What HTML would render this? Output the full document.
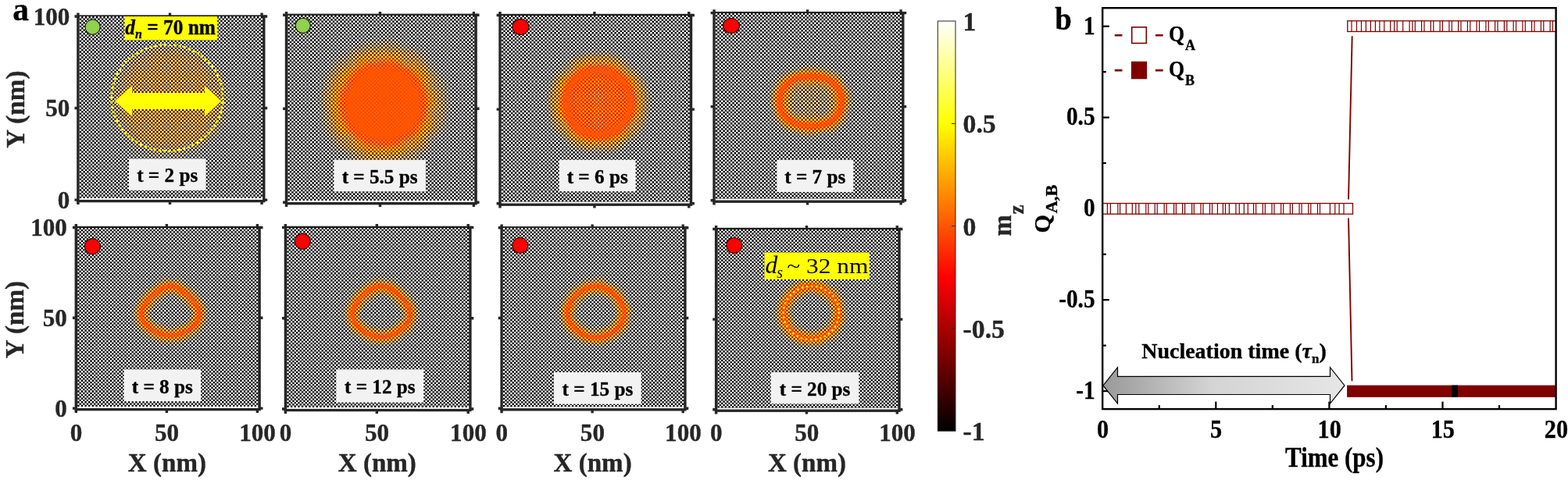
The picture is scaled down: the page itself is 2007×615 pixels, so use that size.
<!DOCTYPE html>
<html lang="en">
<head>
<meta charset="utf-8">
<title>Figure</title>
<style>
html,body{margin:0;padding:0;background:#fff;}
body{width:2007px;height:615px;overflow:hidden;font-family:"Liberation Serif", "DejaVu Serif", serif;}
svg{display:block;}
text[font-weight="bold"], g[font-weight="bold"] text{stroke:currentColor;stroke-width:0.35px;paint-order:stroke fill;stroke-linejoin:round;}
</style>
</head>
<body>
<svg width="2007" height="615" viewBox="0 0 2007 615">
<defs>
<filter id="fa" x="-60%" y="-60%" width="220%" height="220%" color-interpolation-filters="sRGB"><feGaussianBlur stdDeviation="5.5"/></filter><filter id="fb" x="-60%" y="-60%" width="220%" height="220%" color-interpolation-filters="sRGB"><feGaussianBlur stdDeviation="11"/></filter><filter id="fc" x="-60%" y="-60%" width="220%" height="220%" color-interpolation-filters="sRGB"><feGaussianBlur stdDeviation="8"/></filter><filter id="fc2" x="-60%" y="-60%" width="220%" height="220%" color-interpolation-filters="sRGB"><feGaussianBlur stdDeviation="7"/></filter><filter id="fg" x="-60%" y="-60%" width="220%" height="220%" color-interpolation-filters="sRGB"><feGaussianBlur stdDeviation="6.5"/><feComponentTransfer><feFuncA type="linear" slope="3.1" intercept="0"/></feComponentTransfer></filter><filter id="fg2" x="-60%" y="-60%" width="220%" height="220%" color-interpolation-filters="sRGB"><feGaussianBlur stdDeviation="2.2"/><feComponentTransfer><feFuncA type="linear" slope="2.5" intercept="0"/></feComponentTransfer></filter><filter id="fe" x="-60%" y="-60%" width="220%" height="220%" color-interpolation-filters="sRGB"><feGaussianBlur stdDeviation="5.3"/><feComponentTransfer><feFuncA type="linear" slope="3.0" intercept="0"/></feComponentTransfer></filter><filter id="fn" x="-60%" y="-60%" width="220%" height="220%" color-interpolation-filters="sRGB"><feGaussianBlur stdDeviation="1.5"/><feComponentTransfer><feFuncA type="linear" slope="2.0" intercept="0"/></feComponentTransfer></filter><radialGradient id="g1" gradientUnits="userSpaceOnUse" cx="216.5" cy="128.5" r="80" gradientTransform="translate(216.5 128.5) scale(1 0.97) translate(-216.5 -128.5)"><stop offset="0.0000" stop-color="#fff" stop-opacity="0.270"/><stop offset="0.6750" stop-color="#fff" stop-opacity="0.260"/><stop offset="0.7625" stop-color="#fff" stop-opacity="0.210"/><stop offset="0.8375" stop-color="#fff" stop-opacity="0.145"/><stop offset="0.9000" stop-color="#fff" stop-opacity="0.085"/><stop offset="0.9625" stop-color="#fff" stop-opacity="0.035"/><stop offset="1.0000" stop-color="#fff" stop-opacity="0.000"/></radialGradient><radialGradient id="g2" gradientUnits="userSpaceOnUse" cx="490.7" cy="133.2" r="88" gradientTransform="translate(490.7 133.2) scale(1 0.985) translate(-490.7 -133.2)"><stop offset="0.0000" stop-color="#fff" stop-opacity="0.940"/><stop offset="0.4091" stop-color="#fff" stop-opacity="0.960"/><stop offset="0.4773" stop-color="#fff" stop-opacity="1.000"/><stop offset="0.5227" stop-color="#fff" stop-opacity="0.930"/><stop offset="0.5682" stop-color="#fff" stop-opacity="0.820"/><stop offset="0.6193" stop-color="#fff" stop-opacity="0.680"/><stop offset="0.6705" stop-color="#fff" stop-opacity="0.540"/><stop offset="0.7273" stop-color="#fff" stop-opacity="0.410"/><stop offset="0.7841" stop-color="#fff" stop-opacity="0.290"/><stop offset="0.8409" stop-color="#fff" stop-opacity="0.190"/><stop offset="0.8977" stop-color="#fff" stop-opacity="0.100"/><stop offset="0.9545" stop-color="#fff" stop-opacity="0.040"/><stop offset="1.0000" stop-color="#fff" stop-opacity="0.000"/></radialGradient><radialGradient id="g3" gradientUnits="userSpaceOnUse" cx="765.9" cy="131.4" r="69"><stop offset="0.0000" stop-color="#fff" stop-opacity="0.700"/><stop offset="0.4493" stop-color="#fff" stop-opacity="0.730"/><stop offset="0.5362" stop-color="#fff" stop-opacity="0.860"/><stop offset="0.5942" stop-color="#fff" stop-opacity="1.000"/><stop offset="0.6377" stop-color="#fff" stop-opacity="0.880"/><stop offset="0.6812" stop-color="#fff" stop-opacity="0.720"/><stop offset="0.7246" stop-color="#fff" stop-opacity="0.560"/><stop offset="0.7826" stop-color="#fff" stop-opacity="0.400"/><stop offset="0.8406" stop-color="#fff" stop-opacity="0.260"/><stop offset="0.8986" stop-color="#fff" stop-opacity="0.150"/><stop offset="0.9565" stop-color="#fff" stop-opacity="0.060"/><stop offset="1.0000" stop-color="#fff" stop-opacity="0.000"/></radialGradient>
<filter id="hotW" x="0" y="0" width="100%" height="100%" color-interpolation-filters="sRGB">
  <feComponentTransfer>
    <feFuncR type="table" tableValues="1 1 1"/>
    <feFuncG type="table" tableValues="1 1 0.333"/>
    <feFuncB type="table" tableValues="1 0 0"/>
  </feComponentTransfer>
</filter>
<filter id="hotB" x="0" y="0" width="100%" height="100%" color-interpolation-filters="sRGB">
  <feComponentTransfer>
    <feFuncR type="table" tableValues="0 0.333 0.667 1 1"/>
    <feFuncG type="table" tableValues="0 0 0 0 0.333"/>
    <feFuncB type="table" tableValues="0 0 0 0 0"/>
  </feComponentTransfer>
</filter>
<mask id="mk0" maskUnits="userSpaceOnUse" x="101.80" y="21.10" width="234.30" height="232.90"><g fill="none" stroke="#fff" stroke-width="2.3290" stroke-dasharray="2.3430 2.3430"><path d="M101.80 22.265H336.10 M101.80 26.923H336.10 M101.80 31.581H336.10 M101.80 36.239H336.10 M101.80 40.897H336.10 M101.80 45.555H336.10 M101.80 50.213H336.10 M101.80 54.871H336.10 M101.80 59.529H336.10 M101.80 64.186H336.10 M101.80 68.845H336.10 M101.80 73.502H336.10 M101.80 78.161H336.10 M101.80 82.819H336.10 M101.80 87.477H336.10 M101.80 92.135H336.10 M101.80 96.793H336.10 M101.80 101.451H336.10 M101.80 106.109H336.10 M101.80 110.767H336.10 M101.80 115.424H336.10 M101.80 120.083H336.10 M101.80 124.740H336.10 M101.80 129.399H336.10 M101.80 134.056H336.10 M101.80 138.715H336.10 M101.80 143.373H336.10 M101.80 148.031H336.10 M101.80 152.689H336.10 M101.80 157.346H336.10 M101.80 162.005H336.10 M101.80 166.662H336.10 M101.80 171.321H336.10 M101.80 175.978H336.10 M101.80 180.637H336.10 M101.80 185.294H336.10 M101.80 189.953H336.10 M101.80 194.611H336.10 M101.80 199.269H336.10 M101.80 203.927H336.10 M101.80 208.585H336.10 M101.80 213.243H336.10 M101.80 217.901H336.10 M101.80 222.559H336.10 M101.80 227.216H336.10 M101.80 231.875H336.10 M101.80 236.532H336.10 M101.80 241.191H336.10 M101.80 245.849H336.10 M101.80 250.507H336.10"/><path d="M101.80 24.594H336.10 M101.80 29.252H336.10 M101.80 33.910H336.10 M101.80 38.568H336.10 M101.80 43.226H336.10 M101.80 47.884H336.10 M101.80 52.541H336.10 M101.80 57.200H336.10 M101.80 61.858H336.10 M101.80 66.516H336.10 M101.80 71.174H336.10 M101.80 75.832H336.10 M101.80 80.490H336.10 M101.80 85.148H336.10 M101.80 89.805H336.10 M101.80 94.464H336.10 M101.80 99.121H336.10 M101.80 103.780H336.10 M101.80 108.438H336.10 M101.80 113.096H336.10 M101.80 117.754H336.10 M101.80 122.412H336.10 M101.80 127.070H336.10 M101.80 131.728H336.10 M101.80 136.386H336.10 M101.80 141.044H336.10 M101.80 145.702H336.10 M101.80 150.359H336.10 M101.80 155.018H336.10 M101.80 159.675H336.10 M101.80 164.334H336.10 M101.80 168.992H336.10 M101.80 173.650H336.10 M101.80 178.308H336.10 M101.80 182.966H336.10 M101.80 187.624H336.10 M101.80 192.281H336.10 M101.80 196.940H336.10 M101.80 201.597H336.10 M101.80 206.256H336.10 M101.80 210.913H336.10 M101.80 215.572H336.10 M101.80 220.230H336.10 M101.80 224.888H336.10 M101.80 229.546H336.10 M101.80 234.204H336.10 M101.80 238.862H336.10 M101.80 243.520H336.10 M101.80 248.178H336.10 M101.80 252.836H336.10" stroke-dashoffset="2.3430"/></g></mask><clipPath id="cp0"><rect x="101.80" y="21.10" width="234.30" height="232.90"/></clipPath><g id="fld0"><rect x="81.80" y="1.10" width="274.30" height="272.90" fill="#000"/><ellipse cx="216.5" cy="128.5" rx="80" ry="77.60" fill="url(#g1)"/></g><mask id="mk1" maskUnits="userSpaceOnUse" x="368.40" y="19.40" width="239.00" height="237.70"><g fill="none" stroke="#fff" stroke-width="2.3770" stroke-dasharray="2.3900 2.3900"><path d="M368.40 20.589H607.40 M368.40 25.343H607.40 M368.40 30.096H607.40 M368.40 34.850H607.40 M368.40 39.605H607.40 M368.40 44.358H607.40 M368.40 49.112H607.40 M368.40 53.867H607.40 M368.40 58.620H607.40 M368.40 63.374H607.40 M368.40 68.129H607.40 M368.40 72.882H607.40 M368.40 77.636H607.40 M368.40 82.391H607.40 M368.40 87.144H607.40 M368.40 91.898H607.40 M368.40 96.653H607.40 M368.40 101.406H607.40 M368.40 106.160H607.40 M368.40 110.915H607.40 M368.40 115.668H607.40 M368.40 120.422H607.40 M368.40 125.176H607.40 M368.40 129.930H607.40 M368.40 134.684H607.40 M368.40 139.438H607.40 M368.40 144.192H607.40 M368.40 148.946H607.40 M368.40 153.701H607.40 M368.40 158.454H607.40 M368.40 163.208H607.40 M368.40 167.963H607.40 M368.40 172.716H607.40 M368.40 177.470H607.40 M368.40 182.224H607.40 M368.40 186.978H607.40 M368.40 191.732H607.40 M368.40 196.486H607.40 M368.40 201.240H607.40 M368.40 205.994H607.40 M368.40 210.748H607.40 M368.40 215.502H607.40 M368.40 220.256H607.40 M368.40 225.010H607.40 M368.40 229.764H607.40 M368.40 234.518H607.40 M368.40 239.272H607.40 M368.40 244.026H607.40 M368.40 248.780H607.40 M368.40 253.534H607.40"/><path d="M368.40 22.966H607.40 M368.40 27.720H607.40 M368.40 32.474H607.40 M368.40 37.227H607.40 M368.40 41.981H607.40 M368.40 46.736H607.40 M368.40 51.489H607.40 M368.40 56.243H607.40 M368.40 60.998H607.40 M368.40 65.751H607.40 M368.40 70.505H607.40 M368.40 75.260H607.40 M368.40 80.013H607.40 M368.40 84.767H607.40 M368.40 89.522H607.40 M368.40 94.275H607.40 M368.40 99.029H607.40 M368.40 103.784H607.40 M368.40 108.537H607.40 M368.40 113.291H607.40 M368.40 118.045H607.40 M368.40 122.799H607.40 M368.40 127.553H607.40 M368.40 132.307H607.40 M368.40 137.061H607.40 M368.40 141.815H607.40 M368.40 146.569H607.40 M368.40 151.323H607.40 M368.40 156.077H607.40 M368.40 160.832H607.40 M368.40 165.585H607.40 M368.40 170.339H607.40 M368.40 175.093H607.40 M368.40 179.847H607.40 M368.40 184.601H607.40 M368.40 189.355H607.40 M368.40 194.109H607.40 M368.40 198.863H607.40 M368.40 203.617H607.40 M368.40 208.371H607.40 M368.40 213.125H607.40 M368.40 217.879H607.40 M368.40 222.633H607.40 M368.40 227.387H607.40 M368.40 232.141H607.40 M368.40 236.895H607.40 M368.40 241.649H607.40 M368.40 246.403H607.40 M368.40 251.157H607.40 M368.40 255.911H607.40" stroke-dashoffset="2.3900"/></g></mask><clipPath id="cp1"><rect x="368.40" y="19.40" width="239.00" height="237.70"/></clipPath><g id="fld1"><rect x="348.40" y="-0.60" width="279.00" height="277.70" fill="#000"/><ellipse cx="490.7" cy="133.2" rx="88" ry="86.68" fill="url(#g2)"/></g><mask id="mk2" maskUnits="userSpaceOnUse" x="641.90" y="19.60" width="240.90" height="239.00"><g fill="none" stroke="#fff" stroke-width="2.3900" stroke-dasharray="2.4090 2.4090"><path d="M641.90 20.795H882.80 M641.90 25.575H882.80 M641.90 30.355H882.80 M641.90 35.135H882.80 M641.90 39.915H882.80 M641.90 44.695H882.80 M641.90 49.475H882.80 M641.90 54.255H882.80 M641.90 59.035H882.80 M641.90 63.815H882.80 M641.90 68.595H882.80 M641.90 73.375H882.80 M641.90 78.155H882.80 M641.90 82.935H882.80 M641.90 87.715H882.80 M641.90 92.495H882.80 M641.90 97.275H882.80 M641.90 102.055H882.80 M641.90 106.835H882.80 M641.90 111.615H882.80 M641.90 116.395H882.80 M641.90 121.175H882.80 M641.90 125.955H882.80 M641.90 130.735H882.80 M641.90 135.515H882.80 M641.90 140.295H882.80 M641.90 145.075H882.80 M641.90 149.855H882.80 M641.90 154.635H882.80 M641.90 159.415H882.80 M641.90 164.195H882.80 M641.90 168.975H882.80 M641.90 173.755H882.80 M641.90 178.535H882.80 M641.90 183.315H882.80 M641.90 188.095H882.80 M641.90 192.875H882.80 M641.90 197.655H882.80 M641.90 202.435H882.80 M641.90 207.215H882.80 M641.90 211.995H882.80 M641.90 216.775H882.80 M641.90 221.555H882.80 M641.90 226.335H882.80 M641.90 231.115H882.80 M641.90 235.895H882.80 M641.90 240.675H882.80 M641.90 245.455H882.80 M641.90 250.235H882.80 M641.90 255.015H882.80"/><path d="M641.90 23.185H882.80 M641.90 27.965H882.80 M641.90 32.745H882.80 M641.90 37.525H882.80 M641.90 42.305H882.80 M641.90 47.085H882.80 M641.90 51.865H882.80 M641.90 56.645H882.80 M641.90 61.425H882.80 M641.90 66.205H882.80 M641.90 70.985H882.80 M641.90 75.765H882.80 M641.90 80.545H882.80 M641.90 85.325H882.80 M641.90 90.105H882.80 M641.90 94.885H882.80 M641.90 99.665H882.80 M641.90 104.445H882.80 M641.90 109.225H882.80 M641.90 114.005H882.80 M641.90 118.785H882.80 M641.90 123.565H882.80 M641.90 128.345H882.80 M641.90 133.125H882.80 M641.90 137.905H882.80 M641.90 142.685H882.80 M641.90 147.465H882.80 M641.90 152.245H882.80 M641.90 157.025H882.80 M641.90 161.805H882.80 M641.90 166.585H882.80 M641.90 171.365H882.80 M641.90 176.145H882.80 M641.90 180.925H882.80 M641.90 185.705H882.80 M641.90 190.485H882.80 M641.90 195.265H882.80 M641.90 200.045H882.80 M641.90 204.825H882.80 M641.90 209.605H882.80 M641.90 214.385H882.80 M641.90 219.165H882.80 M641.90 223.945H882.80 M641.90 228.725H882.80 M641.90 233.505H882.80 M641.90 238.285H882.80 M641.90 243.065H882.80 M641.90 247.845H882.80 M641.90 252.625H882.80 M641.90 257.405H882.80" stroke-dashoffset="2.4090"/></g></mask><clipPath id="cp2"><rect x="641.90" y="19.60" width="240.90" height="239.00"/></clipPath><g id="fld2"><rect x="621.90" y="-0.40" width="280.90" height="279.00" fill="#000"/><ellipse cx="765.9" cy="131.4" rx="69" ry="69.00" fill="url(#g3)"/></g><mask id="mk3" maskUnits="userSpaceOnUse" x="915.90" y="16.70" width="238.20" height="237.90"><g fill="none" stroke="#fff" stroke-width="2.3790" stroke-dasharray="2.3820 2.3820"><path d="M915.90 17.890H1154.10 M915.90 22.648H1154.10 M915.90 27.405H1154.10 M915.90 32.163H1154.10 M915.90 36.921H1154.10 M915.90 41.679H1154.10 M915.90 46.438H1154.10 M915.90 51.195H1154.10 M915.90 55.953H1154.10 M915.90 60.711H1154.10 M915.90 65.469H1154.10 M915.90 70.227H1154.10 M915.90 74.986H1154.10 M915.90 79.743H1154.10 M915.90 84.501H1154.10 M915.90 89.259H1154.10 M915.90 94.017H1154.10 M915.90 98.775H1154.10 M915.90 103.533H1154.10 M915.90 108.291H1154.10 M915.90 113.049H1154.10 M915.90 117.807H1154.10 M915.90 122.565H1154.10 M915.90 127.323H1154.10 M915.90 132.081H1154.10 M915.90 136.839H1154.10 M915.90 141.597H1154.10 M915.90 146.356H1154.10 M915.90 151.113H1154.10 M915.90 155.871H1154.10 M915.90 160.629H1154.10 M915.90 165.387H1154.10 M915.90 170.145H1154.10 M915.90 174.903H1154.10 M915.90 179.661H1154.10 M915.90 184.419H1154.10 M915.90 189.177H1154.10 M915.90 193.935H1154.10 M915.90 198.693H1154.10 M915.90 203.451H1154.10 M915.90 208.209H1154.10 M915.90 212.967H1154.10 M915.90 217.725H1154.10 M915.90 222.483H1154.10 M915.90 227.241H1154.10 M915.90 231.999H1154.10 M915.90 236.757H1154.10 M915.90 241.515H1154.10 M915.90 246.273H1154.10 M915.90 251.031H1154.10"/><path d="M915.90 20.269H1154.10 M915.90 25.027H1154.10 M915.90 29.785H1154.10 M915.90 34.543H1154.10 M915.90 39.300H1154.10 M915.90 44.058H1154.10 M915.90 48.816H1154.10 M915.90 53.574H1154.10 M915.90 58.332H1154.10 M915.90 63.090H1154.10 M915.90 67.849H1154.10 M915.90 72.606H1154.10 M915.90 77.364H1154.10 M915.90 82.122H1154.10 M915.90 86.880H1154.10 M915.90 91.638H1154.10 M915.90 96.396H1154.10 M915.90 101.154H1154.10 M915.90 105.912H1154.10 M915.90 110.670H1154.10 M915.90 115.428H1154.10 M915.90 120.186H1154.10 M915.90 124.944H1154.10 M915.90 129.702H1154.10 M915.90 134.460H1154.10 M915.90 139.218H1154.10 M915.90 143.976H1154.10 M915.90 148.734H1154.10 M915.90 153.492H1154.10 M915.90 158.250H1154.10 M915.90 163.008H1154.10 M915.90 167.766H1154.10 M915.90 172.524H1154.10 M915.90 177.282H1154.10 M915.90 182.040H1154.10 M915.90 186.798H1154.10 M915.90 191.556H1154.10 M915.90 196.314H1154.10 M915.90 201.072H1154.10 M915.90 205.830H1154.10 M915.90 210.588H1154.10 M915.90 215.346H1154.10 M915.90 220.104H1154.10 M915.90 224.862H1154.10 M915.90 229.620H1154.10 M915.90 234.378H1154.10 M915.90 239.136H1154.10 M915.90 243.894H1154.10 M915.90 248.652H1154.10 M915.90 253.410H1154.10" stroke-dashoffset="2.3820"/></g></mask><clipPath id="cp3"><rect x="915.90" y="16.70" width="238.20" height="237.90"/></clipPath><g id="fld3"><rect x="895.90" y="-3.30" width="278.20" height="277.90" fill="#000"/><path d="M1077.8 129.8 L1077.7 133.4 L1077.3 136.4 L1076.6 139.3 L1075.6 142.0 L1074.4 144.5 L1072.9 146.9 L1071.2 149.2 L1069.3 151.3 L1067.1 153.2 L1064.7 155.0 L1062.1 156.5 L1059.2 157.9 L1056.2 159.1 L1053.0 160.1 L1049.7 160.8 L1046.1 161.4 L1042.2 161.7 L1037.8 161.8 L1033.4 161.7 L1029.5 161.4 L1025.9 160.8 L1022.6 160.1 L1019.4 159.1 L1016.4 157.9 L1013.5 156.5 L1010.9 155.0 L1008.5 153.2 L1006.3 151.3 L1004.4 149.2 L1002.7 146.9 L1001.2 144.5 L1000.0 142.0 L999.0 139.3 L998.3 136.4 L997.9 133.4 L997.8 129.8 L997.9 126.2 L998.3 123.2 L999.0 120.3 L1000.0 117.6 L1001.2 115.1 L1002.7 112.7 L1004.4 110.4 L1006.3 108.3 L1008.5 106.4 L1010.9 104.6 L1013.5 103.1 L1016.4 101.7 L1019.4 100.5 L1022.6 99.5 L1025.9 98.8 L1029.5 98.2 L1033.4 97.9 L1037.8 97.8 L1042.2 97.9 L1046.1 98.2 L1049.7 98.8 L1053.0 99.5 L1056.2 100.5 L1059.2 101.7 L1062.1 103.1 L1064.7 104.6 L1067.1 106.4 L1069.3 108.3 L1071.2 110.4 L1072.9 112.7 L1074.4 115.1 L1075.6 117.6 L1076.6 120.3 L1077.3 123.2 L1077.7 126.2Z" fill="#fff" fill-opacity="0.13"/><path d="M1078.0 129.8 L1077.9 133.4 L1077.4 136.5 L1076.8 139.3 L1075.8 142.1 L1074.6 144.6 L1073.1 147.1 L1071.4 149.3 L1069.4 151.4 L1067.2 153.4 L1064.8 155.1 L1062.2 156.7 L1059.3 158.1 L1056.3 159.3 L1053.1 160.2 L1049.7 161.0 L1046.1 161.6 L1042.3 161.9 L1037.8 162.0 L1033.3 161.9 L1029.5 161.6 L1025.9 161.0 L1022.5 160.2 L1019.3 159.3 L1016.3 158.1 L1013.4 156.7 L1010.8 155.1 L1008.4 153.4 L1006.2 151.4 L1004.2 149.3 L1002.5 147.1 L1001.0 144.6 L999.8 142.1 L998.8 139.3 L998.2 136.5 L997.7 133.4 L997.6 129.8 L997.7 126.2 L998.2 123.1 L998.8 120.3 L999.8 117.5 L1001.0 115.0 L1002.5 112.5 L1004.2 110.3 L1006.2 108.2 L1008.4 106.2 L1010.8 104.5 L1013.4 102.9 L1016.3 101.5 L1019.3 100.3 L1022.5 99.4 L1025.9 98.6 L1029.5 98.0 L1033.3 97.7 L1037.8 97.6 L1042.3 97.7 L1046.1 98.0 L1049.7 98.6 L1053.1 99.4 L1056.3 100.3 L1059.3 101.5 L1062.2 102.9 L1064.8 104.5 L1067.2 106.2 L1069.4 108.2 L1071.4 110.3 L1073.1 112.5 L1074.6 115.0 L1075.8 117.5 L1076.8 120.3 L1077.4 123.1 L1077.9 126.2Z" fill="none" stroke="#fff" stroke-width="3.4" stroke-linejoin="round" filter="url(#fg)"/><path d="M1078.0 129.8 L1077.9 133.4 L1077.4 136.5 L1076.8 139.3 L1075.8 142.1 L1074.6 144.6 L1073.1 147.1 L1071.4 149.3 L1069.4 151.4 L1067.2 153.4 L1064.8 155.1 L1062.2 156.7 L1059.3 158.1 L1056.3 159.3 L1053.1 160.2 L1049.7 161.0 L1046.1 161.6 L1042.3 161.9 L1037.8 162.0 L1033.3 161.9 L1029.5 161.6 L1025.9 161.0 L1022.5 160.2 L1019.3 159.3 L1016.3 158.1 L1013.4 156.7 L1010.8 155.1 L1008.4 153.4 L1006.2 151.4 L1004.2 149.3 L1002.5 147.1 L1001.0 144.6 L999.8 142.1 L998.8 139.3 L998.2 136.5 L997.7 133.4 L997.6 129.8 L997.7 126.2 L998.2 123.1 L998.8 120.3 L999.8 117.5 L1001.0 115.0 L1002.5 112.5 L1004.2 110.3 L1006.2 108.2 L1008.4 106.2 L1010.8 104.5 L1013.4 102.9 L1016.3 101.5 L1019.3 100.3 L1022.5 99.4 L1025.9 98.6 L1029.5 98.0 L1033.3 97.7 L1037.8 97.6 L1042.3 97.7 L1046.1 98.0 L1049.7 98.6 L1053.1 99.4 L1056.3 100.3 L1059.3 101.5 L1062.2 102.9 L1064.8 104.5 L1067.2 106.2 L1069.4 108.2 L1071.4 110.3 L1073.1 112.5 L1074.6 115.0 L1075.8 117.5 L1076.8 120.3 L1077.4 123.1 L1077.9 126.2Z" fill="none" stroke="#fff" stroke-width="1.8" stroke-linejoin="round" filter="url(#fg2)"/></g><mask id="mk4" maskUnits="userSpaceOnUse" x="99.20" y="291.60" width="231.20" height="229.40"><g fill="none" stroke="#fff" stroke-width="2.2940" stroke-dasharray="2.3120 2.3120"><path d="M99.20 292.747H330.40 M99.20 297.335H330.40 M99.20 301.923H330.40 M99.20 306.511H330.40 M99.20 311.099H330.40 M99.20 315.687H330.40 M99.20 320.275H330.40 M99.20 324.863H330.40 M99.20 329.451H330.40 M99.20 334.039H330.40 M99.20 338.627H330.40 M99.20 343.215H330.40 M99.20 347.803H330.40 M99.20 352.391H330.40 M99.20 356.979H330.40 M99.20 361.567H330.40 M99.20 366.155H330.40 M99.20 370.743H330.40 M99.20 375.331H330.40 M99.20 379.919H330.40 M99.20 384.507H330.40 M99.20 389.095H330.40 M99.20 393.683H330.40 M99.20 398.271H330.40 M99.20 402.859H330.40 M99.20 407.447H330.40 M99.20 412.035H330.40 M99.20 416.623H330.40 M99.20 421.211H330.40 M99.20 425.799H330.40 M99.20 430.387H330.40 M99.20 434.975H330.40 M99.20 439.563H330.40 M99.20 444.151H330.40 M99.20 448.739H330.40 M99.20 453.327H330.40 M99.20 457.915H330.40 M99.20 462.503H330.40 M99.20 467.091H330.40 M99.20 471.679H330.40 M99.20 476.267H330.40 M99.20 480.855H330.40 M99.20 485.443H330.40 M99.20 490.031H330.40 M99.20 494.619H330.40 M99.20 499.207H330.40 M99.20 503.795H330.40 M99.20 508.383H330.40 M99.20 512.971H330.40 M99.20 517.559H330.40"/><path d="M99.20 295.041H330.40 M99.20 299.629H330.40 M99.20 304.217H330.40 M99.20 308.805H330.40 M99.20 313.393H330.40 M99.20 317.981H330.40 M99.20 322.569H330.40 M99.20 327.157H330.40 M99.20 331.745H330.40 M99.20 336.333H330.40 M99.20 340.921H330.40 M99.20 345.509H330.40 M99.20 350.097H330.40 M99.20 354.685H330.40 M99.20 359.273H330.40 M99.20 363.861H330.40 M99.20 368.449H330.40 M99.20 373.037H330.40 M99.20 377.625H330.40 M99.20 382.213H330.40 M99.20 386.801H330.40 M99.20 391.389H330.40 M99.20 395.977H330.40 M99.20 400.565H330.40 M99.20 405.153H330.40 M99.20 409.741H330.40 M99.20 414.329H330.40 M99.20 418.917H330.40 M99.20 423.505H330.40 M99.20 428.093H330.40 M99.20 432.681H330.40 M99.20 437.269H330.40 M99.20 441.857H330.40 M99.20 446.445H330.40 M99.20 451.033H330.40 M99.20 455.621H330.40 M99.20 460.209H330.40 M99.20 464.797H330.40 M99.20 469.385H330.40 M99.20 473.973H330.40 M99.20 478.561H330.40 M99.20 483.149H330.40 M99.20 487.737H330.40 M99.20 492.325H330.40 M99.20 496.913H330.40 M99.20 501.501H330.40 M99.20 506.089H330.40 M99.20 510.677H330.40 M99.20 515.265H330.40 M99.20 519.853H330.40" stroke-dashoffset="2.3120"/></g></mask><clipPath id="cp4"><rect x="99.20" y="291.60" width="231.20" height="229.40"/></clipPath><g id="fld4"><rect x="79.20" y="271.60" width="271.20" height="269.40" fill="#000"/><path d="M255.7 400.5 L255.6 402.9 L255.1 405.4 L254.4 407.8 L253.4 410.2 L252.1 412.5 L250.6 414.8 L248.8 416.9 L246.8 419.0 L244.5 420.9 L242.1 422.6 L239.4 424.2 L236.6 425.5 L233.7 426.7 L230.7 427.7 L227.6 428.5 L224.4 429.1 L221.2 429.4 L218.1 429.5 L215.0 429.4 L211.8 429.1 L208.6 428.5 L205.5 427.7 L202.5 426.7 L199.6 425.5 L196.8 424.2 L194.1 422.6 L191.7 420.9 L189.4 419.0 L187.4 416.9 L185.6 414.8 L184.1 412.5 L182.8 410.2 L181.8 407.8 L181.1 405.4 L180.6 402.9 L180.5 400.5 L180.7 399.4 L181.3 397.5 L182.3 395.3 L183.6 392.8 L185.3 390.1 L187.4 387.3 L189.7 384.5 L192.2 381.8 L195.0 379.1 L197.8 376.5 L200.8 374.2 L203.9 372.0 L206.8 370.2 L209.7 368.6 L212.4 367.3 L214.9 366.4 L216.9 365.9 L218.1 365.7 L219.3 365.9 L221.3 366.4 L223.8 367.3 L226.5 368.6 L229.4 370.2 L232.3 372.0 L235.4 374.2 L238.4 376.5 L241.2 379.1 L244.0 381.8 L246.5 384.5 L248.8 387.3 L250.9 390.1 L252.6 392.8 L253.9 395.3 L254.9 397.5 L255.5 399.4Z" fill="none" stroke="#fff" stroke-width="3" stroke-linejoin="round" filter="url(#fe)"/><path d="M255.7 400.5 L255.6 402.9 L255.1 405.4 L254.4 407.8 L253.4 410.2 L252.1 412.5 L250.6 414.8 L248.8 416.9 L246.8 419.0 L244.5 420.9 L242.1 422.6 L239.4 424.2 L236.6 425.5 L233.7 426.7 L230.7 427.7 L227.6 428.5 L224.4 429.1 L221.2 429.4 L218.1 429.5 L215.0 429.4 L211.8 429.1 L208.6 428.5 L205.5 427.7 L202.5 426.7 L199.6 425.5 L196.8 424.2 L194.1 422.6 L191.7 420.9 L189.4 419.0 L187.4 416.9 L185.6 414.8 L184.1 412.5 L182.8 410.2 L181.8 407.8 L181.1 405.4 L180.6 402.9 L180.5 400.5 L180.7 399.4 L181.3 397.5 L182.3 395.3 L183.6 392.8 L185.3 390.1 L187.4 387.3 L189.7 384.5 L192.2 381.8 L195.0 379.1 L197.8 376.5 L200.8 374.2 L203.9 372.0 L206.8 370.2 L209.7 368.6 L212.4 367.3 L214.9 366.4 L216.9 365.9 L218.1 365.7 L219.3 365.9 L221.3 366.4 L223.8 367.3 L226.5 368.6 L229.4 370.2 L232.3 372.0 L235.4 374.2 L238.4 376.5 L241.2 379.1 L244.0 381.8 L246.5 384.5 L248.8 387.3 L250.9 390.1 L252.6 392.8 L253.9 395.3 L254.9 397.5 L255.5 399.4Z" fill="none" stroke="#fff" stroke-width="1.5" stroke-linejoin="round" filter="url(#fn)"/></g><mask id="mk5" maskUnits="userSpaceOnUse" x="367.30" y="291.50" width="232.90" height="230.40"><g fill="none" stroke="#fff" stroke-width="2.3040" stroke-dasharray="2.3290 2.3290"><path d="M367.30 292.652H600.20 M367.30 297.260H600.20 M367.30 301.868H600.20 M367.30 306.476H600.20 M367.30 311.084H600.20 M367.30 315.692H600.20 M367.30 320.300H600.20 M367.30 324.908H600.20 M367.30 329.516H600.20 M367.30 334.124H600.20 M367.30 338.732H600.20 M367.30 343.340H600.20 M367.30 347.948H600.20 M367.30 352.556H600.20 M367.30 357.164H600.20 M367.30 361.772H600.20 M367.30 366.380H600.20 M367.30 370.988H600.20 M367.30 375.596H600.20 M367.30 380.204H600.20 M367.30 384.812H600.20 M367.30 389.420H600.20 M367.30 394.028H600.20 M367.30 398.636H600.20 M367.30 403.244H600.20 M367.30 407.852H600.20 M367.30 412.460H600.20 M367.30 417.068H600.20 M367.30 421.676H600.20 M367.30 426.284H600.20 M367.30 430.892H600.20 M367.30 435.500H600.20 M367.30 440.108H600.20 M367.30 444.716H600.20 M367.30 449.324H600.20 M367.30 453.932H600.20 M367.30 458.540H600.20 M367.30 463.148H600.20 M367.30 467.756H600.20 M367.30 472.364H600.20 M367.30 476.972H600.20 M367.30 481.580H600.20 M367.30 486.188H600.20 M367.30 490.796H600.20 M367.30 495.404H600.20 M367.30 500.012H600.20 M367.30 504.620H600.20 M367.30 509.228H600.20 M367.30 513.836H600.20 M367.30 518.444H600.20"/><path d="M367.30 294.956H600.20 M367.30 299.564H600.20 M367.30 304.172H600.20 M367.30 308.780H600.20 M367.30 313.388H600.20 M367.30 317.996H600.20 M367.30 322.604H600.20 M367.30 327.212H600.20 M367.30 331.820H600.20 M367.30 336.428H600.20 M367.30 341.036H600.20 M367.30 345.644H600.20 M367.30 350.252H600.20 M367.30 354.860H600.20 M367.30 359.468H600.20 M367.30 364.076H600.20 M367.30 368.684H600.20 M367.30 373.292H600.20 M367.30 377.900H600.20 M367.30 382.508H600.20 M367.30 387.116H600.20 M367.30 391.724H600.20 M367.30 396.332H600.20 M367.30 400.940H600.20 M367.30 405.548H600.20 M367.30 410.156H600.20 M367.30 414.764H600.20 M367.30 419.372H600.20 M367.30 423.980H600.20 M367.30 428.588H600.20 M367.30 433.196H600.20 M367.30 437.804H600.20 M367.30 442.412H600.20 M367.30 447.020H600.20 M367.30 451.628H600.20 M367.30 456.236H600.20 M367.30 460.844H600.20 M367.30 465.452H600.20 M367.30 470.060H600.20 M367.30 474.668H600.20 M367.30 479.276H600.20 M367.30 483.884H600.20 M367.30 488.492H600.20 M367.30 493.100H600.20 M367.30 497.708H600.20 M367.30 502.316H600.20 M367.30 506.924H600.20 M367.30 511.532H600.20 M367.30 516.140H600.20 M367.30 520.748H600.20" stroke-dashoffset="2.3290"/></g></mask><clipPath id="cp5"><rect x="367.30" y="291.50" width="232.90" height="230.40"/></clipPath><g id="fld5"><rect x="347.30" y="271.50" width="272.90" height="270.40" fill="#000"/><path d="M525.4 401.2 L525.2 403.5 L524.8 406.0 L524.1 408.5 L523.0 411.0 L521.7 413.5 L520.1 415.9 L518.3 418.2 L516.2 420.4 L513.9 422.4 L511.4 424.3 L508.7 426.0 L505.9 427.5 L503.0 428.8 L500.0 429.8 L496.9 430.7 L493.8 431.3 L490.8 431.7 L488.0 431.8 L485.2 431.7 L482.2 431.3 L479.1 430.7 L476.0 429.8 L473.0 428.8 L470.1 427.5 L467.3 426.0 L464.6 424.3 L462.1 422.4 L459.8 420.4 L457.7 418.2 L455.9 415.9 L454.3 413.5 L453.0 411.0 L451.9 408.5 L451.2 406.0 L450.8 403.5 L450.6 401.2 L450.8 399.8 L451.3 397.7 L452.3 395.3 L453.5 392.6 L455.2 389.8 L457.1 387.0 L459.3 384.2 L461.7 381.4 L464.3 378.8 L467.1 376.3 L470.0 374.0 L473.0 371.9 L476.0 370.1 L478.9 368.6 L481.7 367.4 L484.3 366.5 L486.5 366.0 L488.0 365.8 L489.5 366.0 L491.7 366.5 L494.3 367.4 L497.1 368.6 L500.0 370.1 L503.0 371.9 L506.0 374.0 L508.9 376.3 L511.7 378.8 L514.3 381.4 L516.7 384.2 L518.9 387.0 L520.8 389.8 L522.5 392.6 L523.7 395.3 L524.7 397.7 L525.2 399.8Z" fill="none" stroke="#fff" stroke-width="3" stroke-linejoin="round" filter="url(#fe)"/><path d="M525.4 401.2 L525.2 403.5 L524.8 406.0 L524.1 408.5 L523.0 411.0 L521.7 413.5 L520.1 415.9 L518.3 418.2 L516.2 420.4 L513.9 422.4 L511.4 424.3 L508.7 426.0 L505.9 427.5 L503.0 428.8 L500.0 429.8 L496.9 430.7 L493.8 431.3 L490.8 431.7 L488.0 431.8 L485.2 431.7 L482.2 431.3 L479.1 430.7 L476.0 429.8 L473.0 428.8 L470.1 427.5 L467.3 426.0 L464.6 424.3 L462.1 422.4 L459.8 420.4 L457.7 418.2 L455.9 415.9 L454.3 413.5 L453.0 411.0 L451.9 408.5 L451.2 406.0 L450.8 403.5 L450.6 401.2 L450.8 399.8 L451.3 397.7 L452.3 395.3 L453.5 392.6 L455.2 389.8 L457.1 387.0 L459.3 384.2 L461.7 381.4 L464.3 378.8 L467.1 376.3 L470.0 374.0 L473.0 371.9 L476.0 370.1 L478.9 368.6 L481.7 367.4 L484.3 366.5 L486.5 366.0 L488.0 365.8 L489.5 366.0 L491.7 366.5 L494.3 367.4 L497.1 368.6 L500.0 370.1 L503.0 371.9 L506.0 374.0 L508.9 376.3 L511.7 378.8 L514.3 381.4 L516.7 384.2 L518.9 387.0 L520.8 389.8 L522.5 392.6 L523.7 395.3 L524.7 397.7 L525.2 399.8Z" fill="none" stroke="#fff" stroke-width="1.5" stroke-linejoin="round" filter="url(#fn)"/></g><mask id="mk6" maskUnits="userSpaceOnUse" x="644.00" y="291.90" width="231.20" height="229.30"><g fill="none" stroke="#fff" stroke-width="2.2930" stroke-dasharray="2.3120 2.3120"><path d="M644.00 293.047H875.20 M644.00 297.633H875.20 M644.00 302.219H875.20 M644.00 306.805H875.20 M644.00 311.391H875.20 M644.00 315.977H875.20 M644.00 320.562H875.20 M644.00 325.149H875.20 M644.00 329.735H875.20 M644.00 334.321H875.20 M644.00 338.906H875.20 M644.00 343.493H875.20 M644.00 348.079H875.20 M644.00 352.664H875.20 M644.00 357.250H875.20 M644.00 361.837H875.20 M644.00 366.423H875.20 M644.00 371.009H875.20 M644.00 375.594H875.20 M644.00 380.180H875.20 M644.00 384.766H875.20 M644.00 389.352H875.20 M644.00 393.938H875.20 M644.00 398.524H875.20 M644.00 403.111H875.20 M644.00 407.696H875.20 M644.00 412.282H875.20 M644.00 416.868H875.20 M644.00 421.454H875.20 M644.00 426.040H875.20 M644.00 430.626H875.20 M644.00 435.212H875.20 M644.00 439.798H875.20 M644.00 444.384H875.20 M644.00 448.970H875.20 M644.00 453.556H875.20 M644.00 458.142H875.20 M644.00 462.728H875.20 M644.00 467.314H875.20 M644.00 471.900H875.20 M644.00 476.486H875.20 M644.00 481.072H875.20 M644.00 485.658H875.20 M644.00 490.244H875.20 M644.00 494.830H875.20 M644.00 499.416H875.20 M644.00 504.002H875.20 M644.00 508.588H875.20 M644.00 513.174H875.20 M644.00 517.760H875.20"/><path d="M644.00 295.340H875.20 M644.00 299.926H875.20 M644.00 304.512H875.20 M644.00 309.098H875.20 M644.00 313.684H875.20 M644.00 318.269H875.20 M644.00 322.856H875.20 M644.00 327.442H875.20 M644.00 332.028H875.20 M644.00 336.613H875.20 M644.00 341.200H875.20 M644.00 345.786H875.20 M644.00 350.372H875.20 M644.00 354.957H875.20 M644.00 359.543H875.20 M644.00 364.130H875.20 M644.00 368.716H875.20 M644.00 373.301H875.20 M644.00 377.887H875.20 M644.00 382.474H875.20 M644.00 387.059H875.20 M644.00 391.645H875.20 M644.00 396.231H875.20 M644.00 400.817H875.20 M644.00 405.404H875.20 M644.00 409.989H875.20 M644.00 414.575H875.20 M644.00 419.161H875.20 M644.00 423.747H875.20 M644.00 428.333H875.20 M644.00 432.919H875.20 M644.00 437.505H875.20 M644.00 442.091H875.20 M644.00 446.677H875.20 M644.00 451.263H875.20 M644.00 455.849H875.20 M644.00 460.435H875.20 M644.00 465.021H875.20 M644.00 469.607H875.20 M644.00 474.193H875.20 M644.00 478.779H875.20 M644.00 483.365H875.20 M644.00 487.951H875.20 M644.00 492.537H875.20 M644.00 497.123H875.20 M644.00 501.709H875.20 M644.00 506.295H875.20 M644.00 510.881H875.20 M644.00 515.467H875.20 M644.00 520.053H875.20" stroke-dashoffset="2.3120"/></g></mask><clipPath id="cp6"><rect x="644.00" y="291.90" width="231.20" height="229.30"/></clipPath><g id="fld6"><rect x="624.00" y="271.90" width="271.20" height="269.30" fill="#000"/><path d="M799.4 400.3 L799.3 402.8 L798.8 405.4 L798.1 408.1 L797.1 410.8 L795.8 413.4 L794.3 415.9 L792.5 418.3 L790.4 420.6 L788.2 422.7 L785.8 424.7 L783.2 426.5 L780.4 428.1 L777.6 429.4 L774.6 430.6 L771.6 431.4 L768.5 432.1 L765.5 432.5 L762.7 432.6 L759.9 432.5 L756.9 432.1 L753.8 431.4 L750.8 430.6 L747.8 429.4 L745.0 428.1 L742.2 426.5 L739.6 424.7 L737.2 422.7 L735.0 420.6 L732.9 418.3 L731.1 415.9 L729.6 413.4 L728.3 410.8 L727.3 408.1 L726.6 405.4 L726.1 402.8 L726.0 400.3 L726.2 398.3 L726.7 395.9 L727.5 393.3 L728.6 390.6 L730.0 387.9 L731.7 385.2 L733.6 382.6 L735.8 380.0 L738.2 377.6 L740.8 375.4 L743.5 373.4 L746.4 371.6 L749.3 370.0 L752.2 368.7 L755.2 367.7 L758.0 366.9 L760.6 366.5 L762.7 366.3 L764.8 366.5 L767.4 366.9 L770.2 367.7 L773.2 368.7 L776.1 370.0 L779.0 371.6 L781.9 373.4 L784.6 375.4 L787.2 377.6 L789.6 380.0 L791.8 382.6 L793.7 385.2 L795.4 387.9 L796.8 390.6 L797.9 393.3 L798.7 395.9 L799.2 398.3Z" fill="none" stroke="#fff" stroke-width="3" stroke-linejoin="round" filter="url(#fe)"/><path d="M799.4 400.3 L799.3 402.8 L798.8 405.4 L798.1 408.1 L797.1 410.8 L795.8 413.4 L794.3 415.9 L792.5 418.3 L790.4 420.6 L788.2 422.7 L785.8 424.7 L783.2 426.5 L780.4 428.1 L777.6 429.4 L774.6 430.6 L771.6 431.4 L768.5 432.1 L765.5 432.5 L762.7 432.6 L759.9 432.5 L756.9 432.1 L753.8 431.4 L750.8 430.6 L747.8 429.4 L745.0 428.1 L742.2 426.5 L739.6 424.7 L737.2 422.7 L735.0 420.6 L732.9 418.3 L731.1 415.9 L729.6 413.4 L728.3 410.8 L727.3 408.1 L726.6 405.4 L726.1 402.8 L726.0 400.3 L726.2 398.3 L726.7 395.9 L727.5 393.3 L728.6 390.6 L730.0 387.9 L731.7 385.2 L733.6 382.6 L735.8 380.0 L738.2 377.6 L740.8 375.4 L743.5 373.4 L746.4 371.6 L749.3 370.0 L752.2 368.7 L755.2 367.7 L758.0 366.9 L760.6 366.5 L762.7 366.3 L764.8 366.5 L767.4 366.9 L770.2 367.7 L773.2 368.7 L776.1 370.0 L779.0 371.6 L781.9 373.4 L784.6 375.4 L787.2 377.6 L789.6 380.0 L791.8 382.6 L793.7 385.2 L795.4 387.9 L796.8 390.6 L797.9 393.3 L798.7 395.9 L799.2 398.3Z" fill="none" stroke="#fff" stroke-width="1.5" stroke-linejoin="round" filter="url(#fn)"/></g><mask id="mk7" maskUnits="userSpaceOnUse" x="918.50" y="293.60" width="230.80" height="229.00"><g fill="none" stroke="#fff" stroke-width="2.2900" stroke-dasharray="2.3080 2.3080"><path d="M918.50 294.745H1149.30 M918.50 299.325H1149.30 M918.50 303.905H1149.30 M918.50 308.485H1149.30 M918.50 313.065H1149.30 M918.50 317.645H1149.30 M918.50 322.225H1149.30 M918.50 326.805H1149.30 M918.50 331.385H1149.30 M918.50 335.965H1149.30 M918.50 340.545H1149.30 M918.50 345.125H1149.30 M918.50 349.705H1149.30 M918.50 354.285H1149.30 M918.50 358.865H1149.30 M918.50 363.445H1149.30 M918.50 368.025H1149.30 M918.50 372.605H1149.30 M918.50 377.185H1149.30 M918.50 381.765H1149.30 M918.50 386.345H1149.30 M918.50 390.925H1149.30 M918.50 395.505H1149.30 M918.50 400.085H1149.30 M918.50 404.665H1149.30 M918.50 409.245H1149.30 M918.50 413.825H1149.30 M918.50 418.405H1149.30 M918.50 422.985H1149.30 M918.50 427.565H1149.30 M918.50 432.145H1149.30 M918.50 436.725H1149.30 M918.50 441.305H1149.30 M918.50 445.885H1149.30 M918.50 450.465H1149.30 M918.50 455.045H1149.30 M918.50 459.625H1149.30 M918.50 464.205H1149.30 M918.50 468.785H1149.30 M918.50 473.365H1149.30 M918.50 477.945H1149.30 M918.50 482.525H1149.30 M918.50 487.105H1149.30 M918.50 491.685H1149.30 M918.50 496.265H1149.30 M918.50 500.845H1149.30 M918.50 505.425H1149.30 M918.50 510.005H1149.30 M918.50 514.585H1149.30 M918.50 519.165H1149.30"/><path d="M918.50 297.035H1149.30 M918.50 301.615H1149.30 M918.50 306.195H1149.30 M918.50 310.775H1149.30 M918.50 315.355H1149.30 M918.50 319.935H1149.30 M918.50 324.515H1149.30 M918.50 329.095H1149.30 M918.50 333.675H1149.30 M918.50 338.255H1149.30 M918.50 342.835H1149.30 M918.50 347.415H1149.30 M918.50 351.995H1149.30 M918.50 356.575H1149.30 M918.50 361.155H1149.30 M918.50 365.735H1149.30 M918.50 370.315H1149.30 M918.50 374.895H1149.30 M918.50 379.475H1149.30 M918.50 384.055H1149.30 M918.50 388.635H1149.30 M918.50 393.215H1149.30 M918.50 397.795H1149.30 M918.50 402.375H1149.30 M918.50 406.955H1149.30 M918.50 411.535H1149.30 M918.50 416.115H1149.30 M918.50 420.695H1149.30 M918.50 425.275H1149.30 M918.50 429.855H1149.30 M918.50 434.435H1149.30 M918.50 439.015H1149.30 M918.50 443.595H1149.30 M918.50 448.175H1149.30 M918.50 452.755H1149.30 M918.50 457.335H1149.30 M918.50 461.915H1149.30 M918.50 466.495H1149.30 M918.50 471.075H1149.30 M918.50 475.655H1149.30 M918.50 480.235H1149.30 M918.50 484.815H1149.30 M918.50 489.395H1149.30 M918.50 493.975H1149.30 M918.50 498.555H1149.30 M918.50 503.135H1149.30 M918.50 507.715H1149.30 M918.50 512.295H1149.30 M918.50 516.875H1149.30 M918.50 521.455H1149.30" stroke-dashoffset="2.3080"/></g></mask><clipPath id="cp7"><rect x="918.50" y="293.60" width="230.80" height="229.00"/></clipPath><g id="fld7"><rect x="898.50" y="273.60" width="270.80" height="269.00" fill="#000"/><path d="M1073.7 400.5 L1073.6 403.5 L1073.2 406.4 L1072.5 409.3 L1071.6 412.1 L1070.4 414.8 L1069.0 417.4 L1067.3 419.9 L1065.4 422.3 L1063.3 424.5 L1061.1 426.5 L1058.6 428.3 L1056.0 429.9 L1053.3 431.2 L1050.4 432.4 L1047.5 433.2 L1044.4 433.9 L1041.4 434.3 L1038.3 434.4 L1035.2 434.3 L1032.2 433.9 L1029.1 433.2 L1026.2 432.4 L1023.3 431.2 L1020.6 429.9 L1018.0 428.3 L1015.5 426.5 L1013.3 424.5 L1011.2 422.3 L1009.3 419.9 L1007.6 417.4 L1006.2 414.8 L1005.0 412.1 L1004.1 409.3 L1003.4 406.4 L1003.0 403.5 L1002.9 400.5 L1003.0 397.9 L1003.5 395.1 L1004.2 392.3 L1005.1 389.5 L1006.4 386.8 L1007.9 384.1 L1009.6 381.6 L1011.5 379.2 L1013.7 376.9 L1016.0 374.9 L1018.6 373.0 L1021.2 371.4 L1024.0 369.9 L1026.8 368.7 L1029.7 367.8 L1032.7 367.1 L1035.6 366.7 L1038.3 366.6 L1041.0 366.7 L1043.9 367.1 L1046.9 367.8 L1049.8 368.7 L1052.6 369.9 L1055.4 371.4 L1058.0 373.0 L1060.6 374.9 L1062.9 376.9 L1065.1 379.2 L1067.0 381.6 L1068.7 384.1 L1070.2 386.8 L1071.5 389.5 L1072.4 392.3 L1073.1 395.1 L1073.6 397.9Z" fill="none" stroke="#fff" stroke-width="3" stroke-linejoin="round" filter="url(#fe)"/><path d="M1073.7 400.5 L1073.6 403.5 L1073.2 406.4 L1072.5 409.3 L1071.6 412.1 L1070.4 414.8 L1069.0 417.4 L1067.3 419.9 L1065.4 422.3 L1063.3 424.5 L1061.1 426.5 L1058.6 428.3 L1056.0 429.9 L1053.3 431.2 L1050.4 432.4 L1047.5 433.2 L1044.4 433.9 L1041.4 434.3 L1038.3 434.4 L1035.2 434.3 L1032.2 433.9 L1029.1 433.2 L1026.2 432.4 L1023.3 431.2 L1020.6 429.9 L1018.0 428.3 L1015.5 426.5 L1013.3 424.5 L1011.2 422.3 L1009.3 419.9 L1007.6 417.4 L1006.2 414.8 L1005.0 412.1 L1004.1 409.3 L1003.4 406.4 L1003.0 403.5 L1002.9 400.5 L1003.0 397.9 L1003.5 395.1 L1004.2 392.3 L1005.1 389.5 L1006.4 386.8 L1007.9 384.1 L1009.6 381.6 L1011.5 379.2 L1013.7 376.9 L1016.0 374.9 L1018.6 373.0 L1021.2 371.4 L1024.0 369.9 L1026.8 368.7 L1029.7 367.8 L1032.7 367.1 L1035.6 366.7 L1038.3 366.6 L1041.0 366.7 L1043.9 367.1 L1046.9 367.8 L1049.8 368.7 L1052.6 369.9 L1055.4 371.4 L1058.0 373.0 L1060.6 374.9 L1062.9 376.9 L1065.1 379.2 L1067.0 381.6 L1068.7 384.1 L1070.2 386.8 L1071.5 389.5 L1072.4 392.3 L1073.1 395.1 L1073.6 397.9Z" fill="none" stroke="#fff" stroke-width="1.5" stroke-linejoin="round" filter="url(#fn)"/></g><linearGradient id="hot" x1="0" y1="1" x2="0" y2="0">
<stop offset="0" stop-color="#000"/><stop offset="0.375" stop-color="#f00"/><stop offset="0.75" stop-color="#ff0"/><stop offset="1" stop-color="#fff"/></linearGradient><linearGradient id="ag" x1="0" y1="0" x2="1" y2="0">
<stop offset="0" stop-color="#999"/><stop offset="0.45" stop-color="#d4d4d4"/><stop offset="1" stop-color="#e6e6e6"/></linearGradient>
</defs>
<rect x="0" y="0" width="2007" height="615" fill="#fff"/>
<g stroke="#262626" fill="none" stroke-width="3.4">
<rect x="99.90" y="21.00" width="237.90" height="236.60"/>
<path d="M99.90 21.00v-4.4 M99.90 257.60v4.4 M217.50 21.00v-4.4 M217.50 257.60v4.4 M335.10 21.00v-4.4 M335.10 257.60v4.4 M99.90 21.00h-4.4 M337.80 21.00h4.4 M99.90 138.55h-4.4 M337.80 138.55h4.4 M99.90 256.10h-4.4 M337.80 256.10h4.4"/>
</g>
<g stroke="#262626" fill="none" stroke-width="3.4">
<rect x="366.50" y="19.30" width="242.60" height="241.40"/>
<path d="M366.50 19.30v-4.4 M366.50 260.70v4.4 M486.45 19.30v-4.4 M486.45 260.70v4.4 M606.40 19.30v-4.4 M606.40 260.70v4.4 M366.50 19.30h-4.4 M609.10 19.30h4.4 M366.50 139.25h-4.4 M609.10 139.25h4.4 M366.50 259.20h-4.4 M609.10 259.20h4.4"/>
</g>
<g stroke="#262626" fill="none" stroke-width="3.4">
<rect x="640.00" y="19.50" width="244.50" height="242.70"/>
<path d="M640.00 19.50v-4.4 M640.00 262.20v4.4 M760.90 19.50v-4.4 M760.90 262.20v4.4 M881.80 19.50v-4.4 M881.80 262.20v4.4 M640.00 19.50h-4.4 M884.50 19.50h4.4 M640.00 140.10h-4.4 M884.50 140.10h4.4 M640.00 260.70h-4.4 M884.50 260.70h4.4"/>
</g>
<g stroke="#262626" fill="none" stroke-width="3.4">
<rect x="914.00" y="16.60" width="241.80" height="241.60"/>
<path d="M914.00 16.60v-4.4 M914.00 258.20v4.4 M1033.55 16.60v-4.4 M1033.55 258.20v4.4 M1153.10 16.60v-4.4 M1153.10 258.20v4.4 M914.00 16.60h-4.4 M1155.80 16.60h4.4 M914.00 136.65h-4.4 M1155.80 136.65h4.4 M914.00 256.70h-4.4 M1155.80 256.70h4.4"/>
</g>
<g stroke="#262626" fill="none" stroke-width="3.4">
<rect x="97.30" y="291.50" width="234.80" height="233.10"/>
<path d="M97.30 291.50v-4.4 M97.30 524.60v4.4 M213.35 291.50v-4.4 M213.35 524.60v4.4 M329.40 291.50v-4.4 M329.40 524.60v4.4 M97.30 291.50h-4.4 M332.10 291.50h4.4 M97.30 407.30h-4.4 M332.10 407.30h4.4 M97.30 523.10h-4.4 M332.10 523.10h4.4"/>
</g>
<g stroke="#262626" fill="none" stroke-width="3.4">
<rect x="365.40" y="291.40" width="236.50" height="234.10"/>
<path d="M365.40 291.40v-4.4 M365.40 525.50v4.4 M482.30 291.40v-4.4 M482.30 525.50v4.4 M599.20 291.40v-4.4 M599.20 525.50v4.4 M365.40 291.40h-4.4 M601.90 291.40h4.4 M365.40 407.70h-4.4 M601.90 407.70h4.4 M365.40 524.00h-4.4 M601.90 524.00h4.4"/>
</g>
<g stroke="#262626" fill="none" stroke-width="3.4">
<rect x="642.10" y="291.80" width="234.80" height="233.00"/>
<path d="M642.10 291.80v-4.4 M642.10 524.80v4.4 M758.15 291.80v-4.4 M758.15 524.80v4.4 M874.20 291.80v-4.4 M874.20 524.80v4.4 M642.10 291.80h-4.4 M876.90 291.80h4.4 M642.10 407.55h-4.4 M876.90 407.55h4.4 M642.10 523.30h-4.4 M876.90 523.30h4.4"/>
</g>
<g stroke="#262626" fill="none" stroke-width="3.4">
<rect x="916.60" y="293.50" width="234.40" height="232.70"/>
<path d="M916.60 293.50v-4.4 M916.60 526.20v4.4 M1032.45 293.50v-4.4 M1032.45 526.20v4.4 M1148.30 293.50v-4.4 M1148.30 526.20v4.4 M916.60 293.50h-4.4 M1151.00 293.50h4.4 M916.60 409.10h-4.4 M1151.00 409.10h4.4 M916.60 524.70h-4.4 M1151.00 524.70h4.4"/>
</g>
<g clip-path="url(#cp0)">
<g filter="url(#hotB)"><use href="#fld0"/></g>
<g mask="url(#mk0)"><g filter="url(#hotW)"><use href="#fld0"/></g></g>
</g>
<g clip-path="url(#cp1)">
<g filter="url(#hotB)"><use href="#fld1"/></g>
<g mask="url(#mk1)"><g filter="url(#hotW)"><use href="#fld1"/></g></g>
</g>
<g clip-path="url(#cp2)">
<g filter="url(#hotB)"><use href="#fld2"/></g>
<g mask="url(#mk2)"><g filter="url(#hotW)"><use href="#fld2"/></g></g>
</g>
<g clip-path="url(#cp3)">
<g filter="url(#hotB)"><use href="#fld3"/></g>
<g mask="url(#mk3)"><g filter="url(#hotW)"><use href="#fld3"/></g></g>
</g>
<g clip-path="url(#cp4)">
<g filter="url(#hotB)"><use href="#fld4"/></g>
<g mask="url(#mk4)"><g filter="url(#hotW)"><use href="#fld4"/></g></g>
</g>
<g clip-path="url(#cp5)">
<g filter="url(#hotB)"><use href="#fld5"/></g>
<g mask="url(#mk5)"><g filter="url(#hotW)"><use href="#fld5"/></g></g>
</g>
<g clip-path="url(#cp6)">
<g filter="url(#hotB)"><use href="#fld6"/></g>
<g mask="url(#mk6)"><g filter="url(#hotW)"><use href="#fld6"/></g></g>
</g>
<g clip-path="url(#cp7)">
<g filter="url(#hotB)"><use href="#fld7"/></g>
<g mask="url(#mk7)"><g filter="url(#hotW)"><use href="#fld7"/></g></g>
</g>
<ellipse cx="214" cy="125.4" rx="71.4" ry="68" fill="none" stroke="#ffff00" stroke-width="3.4" stroke-linecap="round" stroke-dasharray="0.01 6.25"/>
<path d="M147 129.4 L169 109.5 L169 119 L262 119 L262 109.5 L283.5 129.4 L262 149.5 L262 140 L169 140 L169 149.5 Z" fill="#ffff00"/>
<rect x="159.4" y="21.1" width="118.9" height="30.1" fill="#ffff00"/>
<text x="160.3" y="44.4" font-family='"Liberation Serif", "DejaVu Serif", serif' font-weight="bold" font-size="27" fill="#000" textLength="115.6" lengthAdjust="spacingAndGlyphs"><tspan font-style="italic">d</tspan><tspan font-style="italic" font-size="17" dy="5">n</tspan><tspan dy="-5"> = 70 nm</tspan></text>
<ellipse cx="1038.3" cy="401" rx="35.6" ry="34.2" fill="none" stroke="#ffff00" stroke-width="2.8" stroke-linecap="round" stroke-dasharray="0.01 6.1"/>
<rect x="978.6" y="323.6" width="134.3" height="34.4" fill="#ffff00"/>
<text x="979.6" y="350.2" font-family='"Liberation Serif", "DejaVu Serif", serif' font-style="italic" font-size="31.5" fill="#000">d</text>
<text x="994.3" y="356" font-family='"Liberation Serif", "DejaVu Serif", serif' font-style="italic" font-size="20" fill="#000">s</text>
<text x="1007.3" y="350.2" font-family='"Liberation Serif", "DejaVu Serif", serif' font-size="26.6" fill="#000" textLength="104" lengthAdjust="spacingAndGlyphs">~ 32 nm</text>
<ellipse cx="118.6" cy="34.6" rx="9.6" ry="9.6" fill="#92d050" stroke="#12240a" stroke-width="1.1"/>
<rect x="164.9" y="203.5" width="98.7" height="40.3" fill="#f2f2f2"/>
<text x="214.2" y="233.3" text-anchor="middle" font-family='"Liberation Serif", "DejaVu Serif", serif' font-weight="bold" font-size="25.2" fill="#000">t = 2 ps</text>
<ellipse cx="387.7" cy="32.8" rx="9.6" ry="9.6" fill="#92d050" stroke="#12240a" stroke-width="1.1"/>
<rect x="427.4" y="204.9" width="117.5" height="40.3" fill="#f2f2f2"/>
<text x="486.1" y="234.8" text-anchor="middle" font-family='"Liberation Serif", "DejaVu Serif", serif' font-weight="bold" font-size="25.2" fill="#000">t = 5.5 ps</text>
<ellipse cx="666.4" cy="34.5" rx="10.5" ry="10.0" fill="#ff0000" stroke="#2a0000" stroke-width="1.1"/>
<rect x="715.7" y="204.9" width="97.9" height="40.3" fill="#f2f2f2"/>
<text x="764.7" y="234.8" text-anchor="middle" font-family='"Liberation Serif", "DejaVu Serif", serif' font-weight="bold" font-size="25.2" fill="#000">t = 6 ps</text>
<ellipse cx="936.0" cy="33.0" rx="10.5" ry="9.5" fill="#ff0000" stroke="#2a0000" stroke-width="1.1"/>
<rect x="994.4" y="204.9" width="97.9" height="41.1" fill="#f2f2f2"/>
<text x="1043.3" y="235.1" text-anchor="middle" font-family='"Liberation Serif", "DejaVu Serif", serif' font-weight="bold" font-size="25.2" fill="#000">t = 7 ps</text>
<ellipse cx="118.4" cy="315.8" rx="10.0" ry="10.0" fill="#ff0000" stroke="#2a0000" stroke-width="1.1"/>
<rect x="158.5" y="473.4" width="98.6" height="40.8" fill="#f2f2f2"/>
<text x="207.8" y="503.5" text-anchor="middle" font-family='"Liberation Serif", "DejaVu Serif", serif' font-weight="bold" font-size="25.2" fill="#000">t = 8 ps</text>
<ellipse cx="387.3" cy="309.2" rx="10.0" ry="10.0" fill="#ff0000" stroke="#2a0000" stroke-width="1.1"/>
<rect x="430.3" y="473.4" width="112.0" height="42.2" fill="#f2f2f2"/>
<text x="486.3" y="504.2" text-anchor="middle" font-family='"Liberation Serif", "DejaVu Serif", serif' font-weight="bold" font-size="25.2" fill="#000">t = 12 ps</text>
<ellipse cx="665.8" cy="314.5" rx="10.0" ry="10.0" fill="#ff0000" stroke="#2a0000" stroke-width="1.1"/>
<rect x="709.0" y="477.0" width="111.7" height="40.7" fill="#f2f2f2"/>
<text x="764.9" y="507.1" text-anchor="middle" font-family='"Liberation Serif", "DejaVu Serif", serif' font-weight="bold" font-size="25.2" fill="#000">t = 15 ps</text>
<ellipse cx="939.8" cy="314.5" rx="10.0" ry="10.0" fill="#ff0000" stroke="#2a0000" stroke-width="1.1"/>
<rect x="986.7" y="477.0" width="112.7" height="40.3" fill="#f2f2f2"/>
<text x="1043.1" y="506.8" text-anchor="middle" font-family='"Liberation Serif", "DejaVu Serif", serif' font-weight="bold" font-size="25.2" fill="#000">t = 20 ps</text>
<text x="89.4" y="31.8" text-anchor="end" font-family='"Liberation Serif", "DejaVu Serif", serif' font-weight="bold" font-size="31.1" fill="#262626" >100</text>
<text x="89.4" y="149.4" text-anchor="end" font-family='"Liberation Serif", "DejaVu Serif", serif' font-weight="bold" font-size="31.1" fill="#262626" >50</text>
<text x="89.4" y="266.9" text-anchor="end" font-family='"Liberation Serif", "DejaVu Serif", serif' font-weight="bold" font-size="31.1" fill="#262626" >0</text>
<text x="85.8" y="302.3" text-anchor="end" font-family='"Liberation Serif", "DejaVu Serif", serif' font-weight="bold" font-size="31.1" fill="#262626" >100</text>
<text x="85.8" y="418.1" text-anchor="end" font-family='"Liberation Serif", "DejaVu Serif", serif' font-weight="bold" font-size="31.1" fill="#262626" >50</text>
<text x="85.8" y="533.9" text-anchor="end" font-family='"Liberation Serif", "DejaVu Serif", serif' font-weight="bold" font-size="31.1" fill="#262626" >0</text>
<text x="97.5" y="564.9" text-anchor="middle" font-family='"Liberation Serif", "DejaVu Serif", serif' font-weight="bold" font-size="31.1" fill="#262626" >0</text>
<text x="213.6" y="564.9" text-anchor="middle" font-family='"Liberation Serif", "DejaVu Serif", serif' font-weight="bold" font-size="31.1" fill="#262626" >50</text>
<text x="329.6" y="564.9" text-anchor="middle" font-family='"Liberation Serif", "DejaVu Serif", serif' font-weight="bold" font-size="31.1" fill="#262626" >100</text>
<text x="213.9" y="603.6" text-anchor="middle" font-family='"Liberation Serif", "DejaVu Serif", serif' font-weight="bold" font-size="33.1" fill="#262626" >X (nm)</text>
<text x="365.6" y="564.9" text-anchor="middle" font-family='"Liberation Serif", "DejaVu Serif", serif' font-weight="bold" font-size="31.1" fill="#262626" >0</text>
<text x="482.5" y="564.9" text-anchor="middle" font-family='"Liberation Serif", "DejaVu Serif", serif' font-weight="bold" font-size="31.1" fill="#262626" >50</text>
<text x="599.4" y="564.9" text-anchor="middle" font-family='"Liberation Serif", "DejaVu Serif", serif' font-weight="bold" font-size="31.1" fill="#262626" >100</text>
<text x="482.8" y="603.6" text-anchor="middle" font-family='"Liberation Serif", "DejaVu Serif", serif' font-weight="bold" font-size="33.1" fill="#262626" >X (nm)</text>
<text x="642.3" y="564.9" text-anchor="middle" font-family='"Liberation Serif", "DejaVu Serif", serif' font-weight="bold" font-size="31.1" fill="#262626" >0</text>
<text x="758.4" y="564.9" text-anchor="middle" font-family='"Liberation Serif", "DejaVu Serif", serif' font-weight="bold" font-size="31.1" fill="#262626" >50</text>
<text x="874.4" y="564.9" text-anchor="middle" font-family='"Liberation Serif", "DejaVu Serif", serif' font-weight="bold" font-size="31.1" fill="#262626" >100</text>
<text x="758.6" y="603.6" text-anchor="middle" font-family='"Liberation Serif", "DejaVu Serif", serif' font-weight="bold" font-size="33.1" fill="#262626" >X (nm)</text>
<text x="916.8" y="564.9" text-anchor="middle" font-family='"Liberation Serif", "DejaVu Serif", serif' font-weight="bold" font-size="31.1" fill="#262626" >0</text>
<text x="1032.7" y="564.9" text-anchor="middle" font-family='"Liberation Serif", "DejaVu Serif", serif' font-weight="bold" font-size="31.1" fill="#262626" >50</text>
<text x="1148.5" y="564.9" text-anchor="middle" font-family='"Liberation Serif", "DejaVu Serif", serif' font-weight="bold" font-size="31.1" fill="#262626" >100</text>
<text x="1033.0" y="603.6" text-anchor="middle" font-family='"Liberation Serif", "DejaVu Serif", serif' font-weight="bold" font-size="33.1" fill="#262626" >X (nm)</text>
<text transform="translate(30.8 140.1) rotate(-90)" text-anchor="middle" font-family='"Liberation Serif", "DejaVu Serif", serif' font-weight="bold" font-size="33.2" fill="#262626">Y (nm)</text>
<text transform="translate(29.7 409.5) rotate(-90)" text-anchor="middle" font-family='"Liberation Serif", "DejaVu Serif", serif' font-weight="bold" font-size="33.2" fill="#262626">Y (nm)</text>
<text transform="translate(16.3 25.6) scale(0.96 1)" text-anchor="start" font-family='"Liberation Serif", "DejaVu Serif", serif' font-weight="bold" font-size="43.2" fill="#000" >a</text>
<text transform="translate(1350.2 37.6) scale(0.91 1)" text-anchor="start" font-family='"Liberation Serif", "DejaVu Serif", serif' font-weight="bold" font-size="42.6" fill="#000" >b</text>
<rect x="1200.3" y="27.0" width="22.7" height="525.2" fill="url(#hot)" stroke="#262626" stroke-width="1"/>
<text x="1232.5" y="38.9" text-anchor="start" font-family='"Liberation Serif", "DejaVu Serif", serif' font-weight="bold" font-size="33.8" fill="#262626" >1</text>
<path d="M1223.0 158.3h-5" stroke="#262626" stroke-width="1"/>
<text x="1232.5" y="170.2" text-anchor="start" font-family='"Liberation Serif", "DejaVu Serif", serif' font-weight="bold" font-size="33.8" fill="#262626" >0.5</text>
<path d="M1223.0 289.6h-5" stroke="#262626" stroke-width="1"/>
<text x="1232.5" y="301.5" text-anchor="start" font-family='"Liberation Serif", "DejaVu Serif", serif' font-weight="bold" font-size="33.8" fill="#262626" >0</text>
<path d="M1223.0 420.9h-5" stroke="#262626" stroke-width="1"/>
<text x="1232.5" y="432.8" text-anchor="start" font-family='"Liberation Serif", "DejaVu Serif", serif' font-weight="bold" font-size="33.8" fill="#262626" >-0.5</text>
<text x="1232.5" y="564.1" text-anchor="start" font-family='"Liberation Serif", "DejaVu Serif", serif' font-weight="bold" font-size="33.8" fill="#262626" >-1</text>
<g transform="translate(1294 302.6) rotate(-90)" font-family='"Liberation Serif", "DejaVu Serif", serif' font-weight="bold" fill="#262626"><text x="0" y="0" font-size="33.8" textLength="27" lengthAdjust="spacingAndGlyphs">m</text><text x="28.1" y="15.9" font-size="27">z</text></g>
<g stroke="#000" stroke-width="2.2" fill="none">
<path d="M1556.3 524.1v-9.5"/>
<path d="M1701.4 524.1v-9.5"/>
<path d="M1846.5 524.1v-9.5"/>
<path d="M1483.8 524.1v-5"/>
<path d="M1628.8 524.1v-5"/>
<path d="M1773.9 524.1v-5"/>
<path d="M1919.0 524.1v-5"/>
<path d="M1411.2 33.7h8.6"/>
<path d="M1411.2 150.5h8.6"/>
<path d="M1411.2 267.4h8.6"/>
<path d="M1411.2 384.2h8.6"/>
<path d="M1411.2 501.1h8.6"/>
<path d="M1411.2 92.1h4.6"/>
<path d="M1411.2 209.0h4.6"/>
<path d="M1411.2 325.8h4.6"/>
<path d="M1411.2 442.7h4.6"/>
</g>
<clipPath id="cpb"><rect x="1411.2" y="10.2" width="580.4" height="513.9"/></clipPath>
<g clip-path="url(#cpb)">
<rect x="1404.0" y="260.55" width="327.5" height="13.7" fill="#fff" stroke="#800000" stroke-width="1.3"/>
<path d="M1417.4 260.55V274.25 M1421.4 260.55V274.25 M1430.9 260.55V274.25 M1433.6 260.55V274.25 M1441.4 260.55V274.25 M1449.3 260.55V274.25 M1453.8 260.55V274.25 M1457.8 260.55V274.25 M1466.8 260.55V274.25 M1469.8 260.55V274.25 M1478.2 260.55V274.25 M1481.2 260.55V274.25 M1490.2 260.55V274.25 M1493.2 260.55V274.25 M1502.6 260.55V274.25 M1505.4 260.55V274.25 M1513.6 260.55V274.25 M1516.6 260.55V274.25 M1525.6 260.55V274.25 M1528.3 260.55V274.25 M1537.0 260.55V274.25 M1540.0 260.55V274.25 M1548.5 260.55V274.25 M1551.5 260.55V274.25 M1558.4 260.55V274.25 M1565.4 260.55V274.25 M1568.4 260.55V274.25 M1573.4 260.55V274.25 M1581.9 260.55V274.25 M1586.3 260.55V274.25 M1592.3 260.55V274.25 M1597.3 260.55V274.25 M1604.6 260.55V274.25 M1607.6 260.55V274.25 M1616.3 260.55V274.25 M1619.3 260.55V274.25 M1628.0 260.55V274.25 M1631.0 260.55V274.25 M1639.7 260.55V274.25 M1642.7 260.55V274.25 M1651.4 260.55V274.25 M1654.4 260.55V274.25 M1663.1 260.55V274.25 M1666.1 260.55V274.25 M1674.8 260.55V274.25 M1677.8 260.55V274.25 M1686.5 260.55V274.25 M1689.5 260.55V274.25 M1702.4 260.55V274.25 M1708.8 260.55V274.25 M1714.1 260.55V274.25 M1720.0 260.55V274.25" stroke="#800000" stroke-width="1.2" fill="none"/>
<rect x="1724.8" y="26.75" width="275.2" height="13.7" fill="#fff" stroke="#800000" stroke-width="1.3"/>
<path d="M1730.0 26.75V40.45 M1736.5 26.75V40.45 M1742.5 26.75V40.45 M1748.4 26.75V40.45 M1754.4 26.75V40.45 M1760.4 26.75V40.45 M1765.9 26.75V40.45 M1771.8 26.75V40.45 M1779.7 26.75V40.45 M1784.7 26.75V40.45 M1788.2 26.75V40.45 M1795.7 26.75V40.45 M1804.1 26.75V40.45 M1807.9 26.75V40.45 M1811.3 26.75V40.45 M1819.6 26.75V40.45 M1823.0 26.75V40.45 M1831.4 26.75V40.45 M1834.8 26.75V40.45 M1843.1 26.75V40.45 M1846.5 26.75V40.45 M1854.9 26.75V40.45 M1858.3 26.75V40.45 M1866.6 26.75V40.45 M1870.0 26.75V40.45 M1878.4 26.75V40.45 M1881.8 26.75V40.45 M1890.1 26.75V40.45 M1893.5 26.75V40.45 M1901.9 26.75V40.45 M1905.3 26.75V40.45 M1913.6 26.75V40.45 M1917.0 26.75V40.45 M1925.4 26.75V40.45 M1928.8 26.75V40.45 M1937.1 26.75V40.45 M1940.5 26.75V40.45 M1948.9 26.75V40.45 M1952.3 26.75V40.45 M1960.6 26.75V40.45 M1964.0 26.75V40.45 M1972.4 26.75V40.45 M1975.8 26.75V40.45 M1984.1 26.75V40.45 M1987.5 26.75V40.45" stroke="#800000" stroke-width="1.2" fill="none"/>
<rect x="1724.1" y="493.6" width="280" height="15.3" fill="#800000"/>
<rect x="1858.3" y="493.6" width="7.6" height="15.3" fill="#000"/>
</g>
<path d="M1726.0 255.5 L1730.7 46.3" stroke="#800000" stroke-width="1.9" fill="none"/>
<path d="M1726.0 279.4 L1730.5 488.2" stroke="#800000" stroke-width="1.9" fill="none"/>
<path d="M1412 493.9 L1430.5 470.7 L1430.5 482.29999999999995 L1702.5 482.29999999999995 L1702.5 470.7 L1721 493.9 L1702.5 517.1 L1702.5 505.5 L1430.5 505.5 L1430.5 517.1 Z" fill="url(#ag)" stroke="#000" stroke-width="1.2" stroke-linejoin="miter"/>
<text x="1461.2" y="459.3" font-family='"Liberation Serif", "DejaVu Serif", serif' font-weight="bold" font-size="28" fill="#000">Nucleation time (<tspan font-style="italic">τ</tspan><tspan font-size="17" dy="6">n</tspan><tspan dy="-6">)</tspan></text>
<rect x="1411.2" y="10.2" width="580.4" height="513.9" fill="none" stroke="#000" stroke-width="2.4"/>
<text transform="translate(1411.5 561.2) scale(0.914 1)" text-anchor="middle" font-family='"Liberation Serif", "DejaVu Serif", serif' font-weight="bold" font-size="33.1" fill="#000" >0</text>
<text transform="translate(1556.6 561.2) scale(0.914 1)" text-anchor="middle" font-family='"Liberation Serif", "DejaVu Serif", serif' font-weight="bold" font-size="33.1" fill="#000" >5</text>
<text transform="translate(1701.7 561.2) scale(0.914 1)" text-anchor="middle" font-family='"Liberation Serif", "DejaVu Serif", serif' font-weight="bold" font-size="33.1" fill="#000" >10</text>
<text transform="translate(1846.8 561.2) scale(0.914 1)" text-anchor="middle" font-family='"Liberation Serif", "DejaVu Serif", serif' font-weight="bold" font-size="33.1" fill="#000" >15</text>
<text transform="translate(1991.9 561.2) scale(0.914 1)" text-anchor="middle" font-family='"Liberation Serif", "DejaVu Serif", serif' font-weight="bold" font-size="33.1" fill="#000" >20</text>
<text transform="translate(1401.5 43.6) scale(0.87 1)" text-anchor="end" font-family='"Liberation Serif", "DejaVu Serif", serif' font-weight="bold" font-size="33.6" fill="#000" >1</text>
<text transform="translate(1401.5 160.4) scale(0.87 1)" text-anchor="end" font-family='"Liberation Serif", "DejaVu Serif", serif' font-weight="bold" font-size="33.6" fill="#000" >0.5</text>
<text transform="translate(1401.5 277.3) scale(0.87 1)" text-anchor="end" font-family='"Liberation Serif", "DejaVu Serif", serif' font-weight="bold" font-size="33.6" fill="#000" >0</text>
<text transform="translate(1401.5 394.1) scale(0.87 1)" text-anchor="end" font-family='"Liberation Serif", "DejaVu Serif", serif' font-weight="bold" font-size="33.6" fill="#000" >-0.5</text>
<text transform="translate(1401.5 511.0) scale(0.87 1)" text-anchor="end" font-family='"Liberation Serif", "DejaVu Serif", serif' font-weight="bold" font-size="33.6" fill="#000" >-1</text>
<text transform="translate(1708 598) scale(0.89 1)" text-anchor="middle" font-family='"Liberation Serif", "DejaVu Serif", serif' font-weight="bold" font-size="34.8" fill="#000" >Time (ps)</text>
<g transform="translate(1343.5 298.5) rotate(-90)" font-family='"Liberation Serif", "DejaVu Serif", serif' font-weight="bold" fill="#000"><text x="0" y="0" font-size="30.3">Q</text><text x="25.3" y="9.9" font-size="21" textLength="36.5" lengthAdjust="spacingAndGlyphs">A,B</text></g>
<path d="M1426.8 45.2h9.7 M1478.9 45.2h9.7" stroke="#800000" stroke-width="2.6"/>
<rect x="1448.7" y="34.8" width="18.6" height="20.6" fill="#fff" stroke="#800000" stroke-width="1.6"/>
<text transform="translate(1496 52.8) scale(0.87 1)" font-family='"Liberation Serif", "DejaVu Serif", serif' font-weight="bold" font-size="29.7" fill="#000">Q</text>
<text transform="translate(1517 64.0) scale(0.95 1)" font-family='"Liberation Serif", "DejaVu Serif", serif' font-weight="bold" font-size="19" fill="#000">A</text>
<path d="M1426.8 90.1h9.7 M1478.9 90.1h9.7" stroke="#800000" stroke-width="2.6"/>
<rect x="1447.9" y="78.7" width="20.2" height="22.6" fill="#800000"/>
<text transform="translate(1496 97.7) scale(0.87 1)" font-family='"Liberation Serif", "DejaVu Serif", serif' font-weight="bold" font-size="29.7" fill="#000">Q</text>
<text transform="translate(1517 108.9) scale(0.95 1)" font-family='"Liberation Serif", "DejaVu Serif", serif' font-weight="bold" font-size="19" fill="#000">B</text>
</svg>
</body>
</html>
